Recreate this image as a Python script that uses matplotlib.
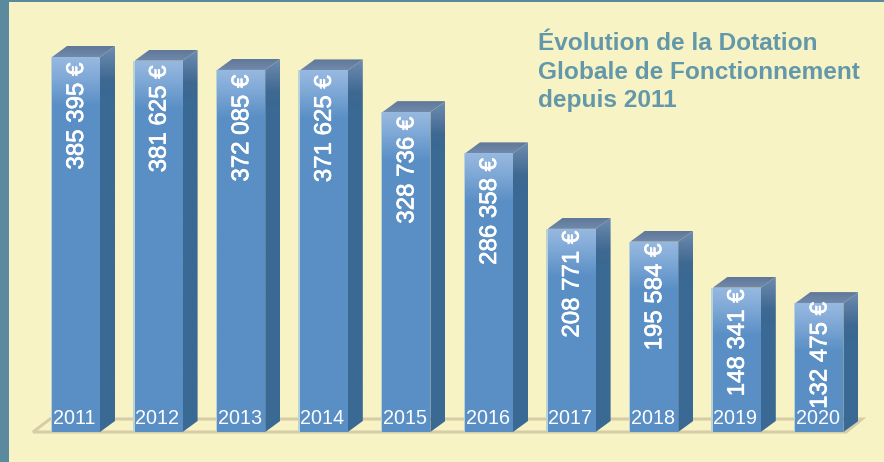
import numpy as np
import matplotlib
matplotlib.use('Agg')
import matplotlib.pyplot as plt
import matplotlib.patheffects as pe
from matplotlib.colors import LinearSegmentedColormap
from matplotlib.patches import Polygon, Rectangle

years = ['2011', '2012', '2013', '2014', '2015', '2016', '2017', '2018', '2019', '2020']
values = [385395, 381625, 372085, 371625, 328736, 286358, 208771, 195584, 148341, 132475]
value_labels = ['385 395 €', '381 625 €', '372 085 €', '371 625 €', '328 736 €',
                '286 358 €', '208 771 €', '195 584 €', '148 341 €', '132 475 €']
title = 'Évolution de la Dotation\nGlobale de Fonctionnement\ndepuis 2011'

plt.rcParams['font.family'] = ['Liberation Sans', 'DejaVu Sans']

# pixel scale of the picture
px_x = 82.6
px_y = 0.000973
bar_w = 48 / px_x
dx = 15 / px_x
dy = 11 / px_y
fade = 48  # px over which the shine at the top of a bar fades out
label_gap = [6, 5, 5, 5, 5, 5, 2, 2, 2, -1]  # px from bar top to its label

front_cm = LinearSegmentedColormap.from_list('front', [(0, '#97b9e0'), (0.35, '#84acd9'), (1, '#5a8fc5')])
side_cm = LinearSegmentedColormap.from_list('side', [(0, '#6f8cb0'), (0.7, '#3e6891'), (1, '#3a6994')])
top_cm = LinearSegmentedColormap.from_list('top', [(0, '#5f7899'), (1, '#7189ab')])


def grad(ax, cm, box, poly, height_px):
    g = np.clip(np.linspace(0, height_px, 256) / fade, 0, 1).reshape(-1, 1)
    im = ax.imshow(g, cmap=cm, extent=box, origin='upper', aspect='auto', zorder=3, vmin=0, vmax=1)
    p = Polygon(poly, closed=True, transform=ax.transData, fc='none', ec='none')
    ax.add_patch(p)
    im.set_clip_path(p)


fig = plt.figure(figsize=(8.84, 4.62), dpi=100, facecolor='#f8f3c5')
ax = fig.add_axes([0, 0, 1, 1])
ax.axis('off')

# floor
fl = [(-19 / px_x, 0), (794 / px_x, 0), (810 / px_x, 13 / px_y), (-2 / px_x, 13 / px_y)]
ax.add_patch(Polygon(fl, closed=True, fc='#f8f3c5', ec='#d6cca8', lw=2.2, zorder=1))

for i, (yr, v, lab) in enumerate(zip(years, values, value_labels)):
    x0, x1 = i, i + bar_w
    h = v * px_y
    side = [(x1, 0), (x1 + dx, dy), (x1 + dx, v + dy), (x1, v)]
    grad(ax, side_cm, (x1, x1 + dx, 0, v + dy), side, h + 11)
    top = [(x0, v), (x1, v), (x1 + dx, v + dy), (x0 + dx, v + dy)]
    grad(ax, top_cm, (x0, x1 + dx, v, v + dy), top, fade)
    grad(ax, front_cm, (x0, x1, 0, v), [(x0, 0), (x1, 0), (x1, v), (x0, v)], h)
    # pale edge on the left of the bar
    ax.add_patch(Rectangle((x0 - 1.5 / px_x, 0), 1.5 / px_x, v, fc='#b9d3d6', ec='none', zorder=2.5))
    ax.text(x0 + bar_w / 2 + 1 / px_x, v - label_gap[i] / px_y, lab, rotation=90, ha='center', va='top',
            color='white', fontsize=17.3, zorder=5,
            path_effects=[pe.withStroke(linewidth=0.5, foreground='white')])
    ax.text(x0 + bar_w / 2 - 1.5 / px_x, 4 / px_y, yr, ha='center', va='bottom',
            color='white', fontsize=14.2, zorder=5)

ax.set_xlim(-52 / px_x, 832 / px_x)
ax.set_ylim(-30 / px_y, 432 / px_y)

# page frame
ax.add_patch(Rectangle((0, 0), 9 / 884, 1, transform=ax.transAxes, fc='#5b8a9f', ec='none', zorder=6))
ax.add_patch(Rectangle((0, 1 - 2 / 462), 1, 2 / 462, transform=ax.transAxes, fc='#5b8a9f', ec='none', zorder=6))

ax.text(538 / 884, 1 - 32 / 462, title, transform=ax.transAxes, ha='left', va='top',
        color='#6298a9', fontsize=17.6, fontweight='bold', linespacing=1.31, zorder=5)

fig.savefig('out.png', dpi=100, facecolor=fig.get_facecolor())
